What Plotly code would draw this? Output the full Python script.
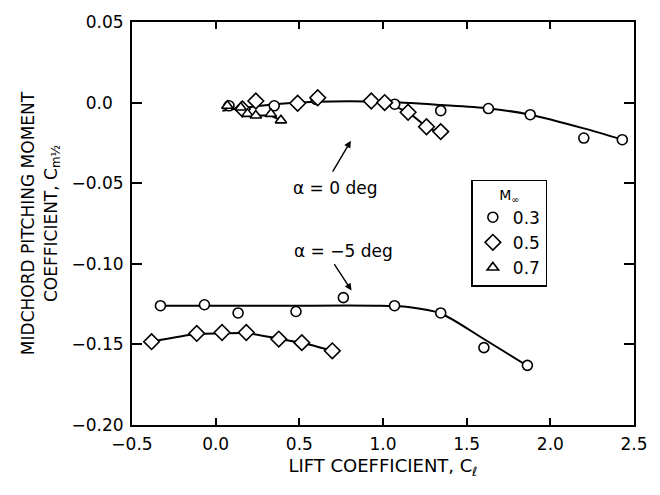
import plotly.graph_objects as go

# ---- data ----
# alpha = 0 deg
a0_m03_x = [0.08, 0.35, 0.60, 1.07, 1.345, 1.63, 1.88, 2.20, 2.43]
a0_m03_y = [-0.002, -0.002, 0.002, -0.001, -0.005, -0.0037, -0.0075, -0.022, -0.023]
a0_m05_x = [0.16, 0.24, 0.49, 0.61, 0.93, 1.01, 1.15, 1.26, 1.345]
a0_m05_y = [-0.004, 0.001, -0.0004, 0.003, 0.001, 0.0, -0.006, -0.015, -0.018]
a0_m07_x = [0.07, 0.15, 0.19, 0.24, 0.33, 0.39]
a0_m07_y = [-0.002, -0.003, -0.007, -0.008, -0.007, -0.011]

# alpha = -5 deg
a5_m03_x = [-0.33, -0.067, 0.134, 0.48, 0.763, 1.069, 1.345, 1.603, 1.863]
a5_m03_y = [-0.126, -0.1254, -0.1305, -0.1296, -0.121, -0.126, -0.1305, -0.152, -0.163]
a5_m05_x = [-0.383, -0.113, 0.038, 0.183, 0.377, 0.515, 0.697]
a5_m05_y = [-0.1483, -0.1432, -0.1426, -0.1426, -0.1467, -0.1489, -0.154]

# faired curves
fit_a0_m03_x = [0.04, 0.35, 0.60, 1.00, 1.35, 1.63, 1.88, 2.20, 2.43]
fit_a0_m03_y = [-0.005, -0.001, 0.0005, 0.0005, -0.0015, -0.0036, -0.0075, -0.016, -0.023]
fit_a0_m05_x = [1.00, 1.15, 1.26, 1.345]
fit_a0_m05_y = [0.0, -0.006, -0.015, -0.019]
fit_a0_m07_x = [0.24, 0.33, 0.39]
fit_a0_m07_y = [-0.008, -0.008, -0.011]
fit_a5_m03_x = [-0.33, 0.40, 0.95, 1.15, 1.345, 1.60, 1.865]
fit_a5_m03_y = [-0.126, -0.126, -0.126, -0.1268, -0.1308, -0.1465, -0.1635]
fit_a5_m05_x = [-0.383, -0.113, 0.04, 0.18, 0.377, 0.515, 0.697]
fit_a5_m05_y = [-0.1483, -0.1436, -0.1432, -0.143, -0.1465, -0.149, -0.154]

mach_labels = ["0.3", "0.5", "0.7"]

x_tickvals = [-0.5, 0.0, 0.5, 1.0, 1.5, 2.0, 2.5]
x_ticktext = ["\u22120.5", "0.0", "0.5", "1.0", "1.5", "2.0", "2.5"]
y_tickvals = [0.05, 0.0, -0.05, -0.10, -0.15, -0.20]
y_ticktext = ["0.05", "0.0\u2007", "\u22120.05", "\u22120.10", "\u22120.15", "\u22120.20"]

FONT = "DejaVu Sans, Liberation Sans, Arial, sans-serif"
fig = go.Figure()

# curves
for fx, fy, shape in [
    (fit_a0_m03_x, fit_a0_m03_y, "spline"),
    (fit_a0_m05_x, fit_a0_m05_y, "spline"),
    (fit_a0_m07_x, fit_a0_m07_y, "linear"),
    (fit_a5_m03_x, fit_a5_m03_y, "spline"),
    (fit_a5_m05_x, fit_a5_m05_y, "spline"),
]:
    fig.add_trace(go.Scatter(x=fx, y=fy, mode="lines", showlegend=False,
                             line=dict(color="black", width=2, shape=shape, smoothing=0.8),
                             hoverinfo="skip"))

def mk(symbol, size):
    return dict(symbol=symbol, size=size, color="white", line=dict(color="black", width=1.6))

# markers
fig.add_trace(go.Scatter(x=a0_m03_x + a5_m03_x, y=a0_m03_y + a5_m03_y, mode="markers",
                         name=mach_labels[0], marker=mk("circle", 10)))
fig.add_trace(go.Scatter(x=a0_m05_x + a5_m05_x, y=a0_m05_y + a5_m05_y, mode="markers",
                         name=mach_labels[1], marker=mk("diamond", 12)))
fig.add_trace(go.Scatter(x=a0_m07_x, y=a0_m07_y, mode="markers",
                         name=mach_labels[2], marker=mk("triangle-up", 10)))

# annotations
fig.add_annotation(x=0.715, y=-0.053, text="\u03b1 = 0 deg", showarrow=False,
                   font=dict(family=FONT, size=17, color="black"))
fig.add_annotation(x=0.808, y=-0.0237, ax=0.694, ay=-0.0437, axref="x", ayref="y",
                   text="", showarrow=True, arrowhead=2, arrowsize=1, arrowwidth=1.4,
                   arrowcolor="black")
fig.add_annotation(x=0.763, y=-0.0923, text="\u03b1 = \u22125 deg", showarrow=False,
                   font=dict(family=FONT, size=17, color="black"))
fig.add_annotation(x=0.812, y=-0.1166, ax=0.703, ay=-0.0993, axref="x", ayref="y",
                   text="", showarrow=True, arrowhead=2, arrowsize=1, arrowwidth=1.4,
                   arrowcolor="black")

axis_common = dict(showgrid=False, zeroline=False, showline=True, linecolor="black",
                   linewidth=2, mirror="ticks", ticks="inside", tickwidth=1.5,
                   tickcolor="black", tickfont=dict(family=FONT, size=17, color="black"))

fig.update_layout(
    width=660, height=495,
    margin=dict(l=132, r=22, t=14, b=70),
    paper_bgcolor="white", plot_bgcolor="white",
    font=dict(family=FONT, color="black"),
    xaxis=dict(range=[-0.5, 2.5], tickmode="array", tickvals=x_tickvals, ticktext=x_ticktext,
               ticklen=7,
               title=dict(text="LIFT COEFFICIENT, C<sub>\u2113</sub>",
                          font=dict(family=FONT, size=18), standoff=6),
               ticklabelstandoff=3, **axis_common),
    yaxis=dict(range=[-0.20, 0.05], tickmode="array", tickvals=y_tickvals, ticktext=y_ticktext,
               ticklen=10,
               title=dict(text="MIDCHORD PITCHING MOMENT<br>COEFFICIENT, C<sub>m\u00bd</sub>",
                          font=dict(family=FONT, size=17), standoff=10),
               ticklabelstandoff=3, **axis_common),
    legend=dict(x=0.676, y=0.608, xanchor="left", yanchor="top",
                bordercolor="black", borderwidth=1.5, bgcolor="white",
                font=dict(family=FONT, size=17),
                title=dict(text="M<sub>\u221e</sub>", side="top center",
                           font=dict(family=FONT, size=14)),
                tracegroupgap=0, itemwidth=30),
)

fig.write_html("out.html")
